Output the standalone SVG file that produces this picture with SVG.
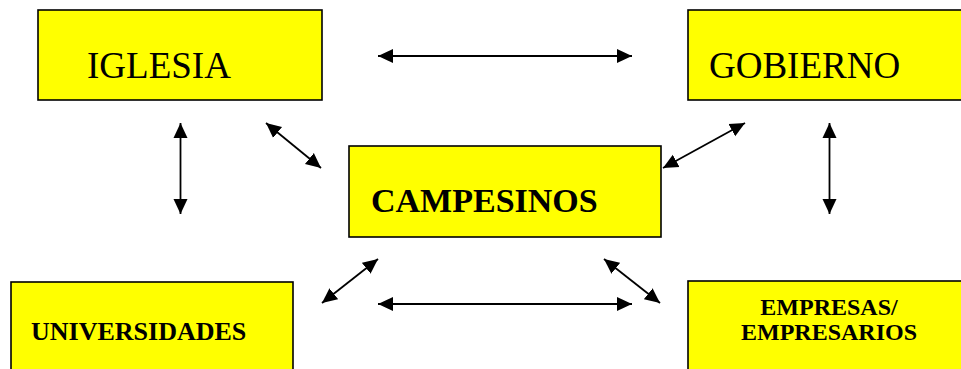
<svg xmlns="http://www.w3.org/2000/svg" width="961" height="369" viewBox="0 0 961 369">
<style>
.box{fill:#ffff00;stroke:#000;stroke-width:1.6}
.t{font-family:"Liberation Serif","Times New Roman",serif;fill:#000}
.b{font-weight:bold}
.c{stroke:#000;stroke-width:1.8;fill:none;marker-start:url(#ah);marker-end:url(#ah)}
</style>
<defs>
<marker id="ah" markerUnits="userSpaceOnUse" markerWidth="16" markerHeight="16" viewBox="0 0 16 16" refX="15" refY="8" orient="auto-start-reverse">
<path d="M0,1 L15,8 L0,15 Z" fill="#000"/>
</marker>
</defs>
<rect width="961" height="369" fill="#fff"/>
<g id="iglesia">
<rect class="box" x="38" y="10" width="284" height="90"/>
<text class="t" x="87" y="78" font-size="37">IGLESIA</text>
</g>
<g id="gobierno">
<rect class="box" x="688" y="10" width="280" height="90"/>
<text class="t" x="709" y="78" font-size="37">GOBIERNO</text>
</g>
<g id="campesinos">
<rect class="box" x="349" y="146" width="312" height="91"/>
<text class="t b" x="371" y="212" font-size="34">CAMPESINOS</text>
</g>
<g id="universidades">
<rect class="box" x="11" y="282" width="282" height="100"/>
<text class="t b" x="31" y="340" font-size="26">UNIVERSIDADES</text>
</g>
<g id="empresas">
<rect class="box" x="688" y="281" width="280" height="100"/>
<text class="t b" x="829" y="315" font-size="24" text-anchor="middle">EMPRESAS/</text>
<text class="t b" x="829" y="340" font-size="24" text-anchor="middle">EMPRESARIOS</text>
</g>
<g id="connectors">
<line class="c" x1="378" y1="56" x2="632" y2="56"/>
<line class="c" x1="378" y1="304" x2="632" y2="304"/>
<line class="c" x1="180.5" y1="123" x2="180.5" y2="214"/>
<line class="c" x1="829.5" y1="123" x2="829.5" y2="214"/>
<line class="c" x1="266" y1="123" x2="321" y2="168"/>
<line class="c" x1="745" y1="123" x2="663" y2="168"/>
<line class="c" x1="378" y1="259" x2="322" y2="303"/>
<line class="c" x1="604" y1="259" x2="660" y2="303"/>
</g>
</svg>
